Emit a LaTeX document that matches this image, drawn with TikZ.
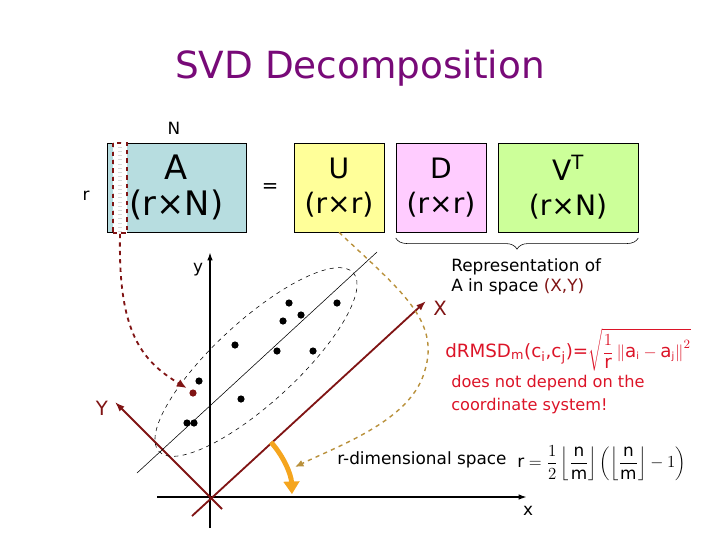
\documentclass[tikz,border=0pt]{standalone}
\usepackage{fontspec}
\setmainfont{DejaVu Sans}
\usepackage{xcolor}
\usepackage{tikz}
\usetikzlibrary{positioning,arrows.meta,decorations.pathreplacing,patterns}

\definecolor{titlepurple}{RGB}{120,10,120}
\definecolor{afill}{RGB}{183,221,224}
\definecolor{ufill}{RGB}{255,255,153}
\definecolor{dfill}{RGB}{255,204,255}
\definecolor{vfill}{RGB}{204,255,153}
\definecolor{darkred}{RGB}{128,20,20}
\definecolor{tan}{RGB}{185,145,60}
\definecolor{angorange}{RGB}{245,165,30}
\definecolor{formred}{RGB}{220,20,40}

\begin{document}
\begin{tikzpicture}[
  x=0.025cm, y=-0.025cm,
  mat/.style={
    draw,
    align=center,
    minimum height=2.225cm,
    inner sep=0pt,
    font=\fontsize{20}{25}\selectfont
  },
  dot/.style={circle, fill=black, inner sep=0pt, minimum size=0.18cm},
  axis/.style={-{Latex[length=6pt,width=4pt]}, line width=1.4pt},
  raxis/.style={-{Latex[length=7pt,width=5pt]}, line width=1.3pt, draw=darkred},
  lab/.style={font=\fontsize{12}{14.5}\selectfont, align=left, inner sep=0pt}
]
  \useasboundingbox (0,0) rectangle (720,540);

  \node[font=\fontsize{26.6}{30}\selectfont, text=titlepurple] (title) at (360,68) {SVD Decomposition};

  % the matrices
  \node[mat, fill=afill, minimum width=3.475cm, font=\fontsize{24}{26}\selectfont] (matA) at (176.5,187.5) {A\\(r×N)};
  \node[mat, fill=ufill, minimum width=2.25cm] (matU) at (339,187.5) {U\\(r×r)};
  \node[mat, fill=dfill, minimum width=2.25cm] (matD) at (441,187.5) {D\\(r×r)};
  \node[mat, fill=vfill, minimum width=3.5cm] (matV) at (568,187.5) {V\textsuperscript{T}\\(r×N)};
  \node[font=\fontsize{14}{16}\selectfont] (eq) at (270,188) {=};
  \node[lab] (colN) at (174,128) {N};
  \node[lab] (rowr) at (86,196) {r};
  \node[draw=darkred, dashed, line width=1.3pt, preaction={fill=white},
        pattern=horizontal lines, pattern color=gray!30,
        minimum width=0.35cm, minimum height=2.25cm, inner sep=0pt] (colA) at (120,188) {};

  \draw[decorate, decoration={brace, mirror, amplitude=8pt}, thin]
    ([yshift=-4pt]matD.south west) -- ([yshift=-4pt]matV.south east);
  \node[lab, anchor=north west] (repr) at (451,258) {Representation of\\A in space \textcolor{darkred}{(X,Y)}};

  % axes
  \coordinate (orig) at (210,497);
  \coordinate (ybot) at (210,528);
  \coordinate (ytop) at (210,252);
  \coordinate (xleft) at (157,497);
  \coordinate (xright) at (527,497);
  \draw[axis] (ybot) -- (ytop);
  \draw[axis] (xleft) -- (xright);
  \node[lab] (ylab) at (198,270) {y};
  \node[lab] (xlab) at (528,511) {x};

  \coordinate (Xs) at (192,516);
  \coordinate (Xe) at (426,301);
  \coordinate (Ys) at (222,509);
  \coordinate (Ye) at (115,402);
  \draw[raxis] (Xs) -- (Xe);
  \draw[raxis] (Ys) -- (Ye);
  \node[lab, text=darkred, font=\fontsize{14}{16}\selectfont] (Xlab) at (440,308) {X};
  \node[lab, text=darkred, font=\fontsize{14}{16}\selectfont] (Ylab) at (102,408) {Y};

  % principal direction and point cloud
  \coordinate (pa) at (137,473);
  \coordinate (pb) at (377,252);
  \draw[thin] (pa) -- (pb);
  \draw[dashed, thin, rotate around={42.6:(256,362)}] (256,362) ellipse [x radius=132, y radius=41];

  \node[dot] (p1) at (289,303) {};
  \node[dot] (p2) at (337,303) {};
  \node[dot] (p3) at (301,315) {};
  \node[dot] (p4) at (283,321) {};
  \node[dot] (p5) at (235,345) {};
  \node[dot] (p6) at (277,351) {};
  \node[dot] (p7) at (313,351) {};
  \node[dot] (p8) at (199,381) {};
  \node[dot] (p9) at (241,399) {};
  \node[dot] (p10) at (187,423) {};
  \node[dot] (p11) at (194,423) {};
  \node[dot, fill=darkred] (pr) at (193,393) {};

  \draw[dashed, line width=1.3pt, darkred, -{Latex[length=7pt,width=6pt]}, shorten >=3pt]
    (colA.south) .. controls (118,330) and (140,360) .. (pr.north west);

  % r-dimensional space
  \node[lab, anchor=west] (rdim) at (337,460) {r-dimensional space};
  \node[anchor=west, inner sep=0pt, font=\fontsize{12}{14}\selectfont] (rform) at (517,463)
    {$\displaystyle\mbox{r}=\frac{1}{2}\left\lfloor\frac{\mbox{n}}{\mbox{m}}\right\rfloor\left(\left\lfloor\frac{\mbox{n}}{\mbox{m}}\right\rfloor-1\right)$};
  \coordinate (rtip) at (295,467);
  \draw[dashed, line width=1pt, tan, -{Latex[length=6pt,width=5pt]}]
    (matU.south) .. controls (400,290) and (440,320) .. (425,370)
    .. controls (412,420) and (340,445) .. (rtip);

  \draw[line width=3.5pt, angorange, -{Triangle[length=9pt,width=11pt]}]
    (orig) ++(-42:82) arc (-42:-2:82);

  % distance formula
  \node[anchor=west, inner sep=0pt, text=formred, font=\fontsize{13}{16}\selectfont] (dform) at (445,350)
    {dRMSD\textsubscript{m}(c\textsubscript{i},c\textsubscript{j})=$\displaystyle\sqrt{\frac{1}{\mbox{r}}\left\|\mbox{a}_{\mbox{\scriptsize i}}-\mbox{a}_{\mbox{\scriptsize j}}\right\|^{2}}$};
  \node[lab, anchor=north west, text=formred, font=\fontsize{11.5}{16.5}\selectfont] (dnote) at (451,375)
    {does not depend on the\\coordinate system!};
\end{tikzpicture}
\end{document}
